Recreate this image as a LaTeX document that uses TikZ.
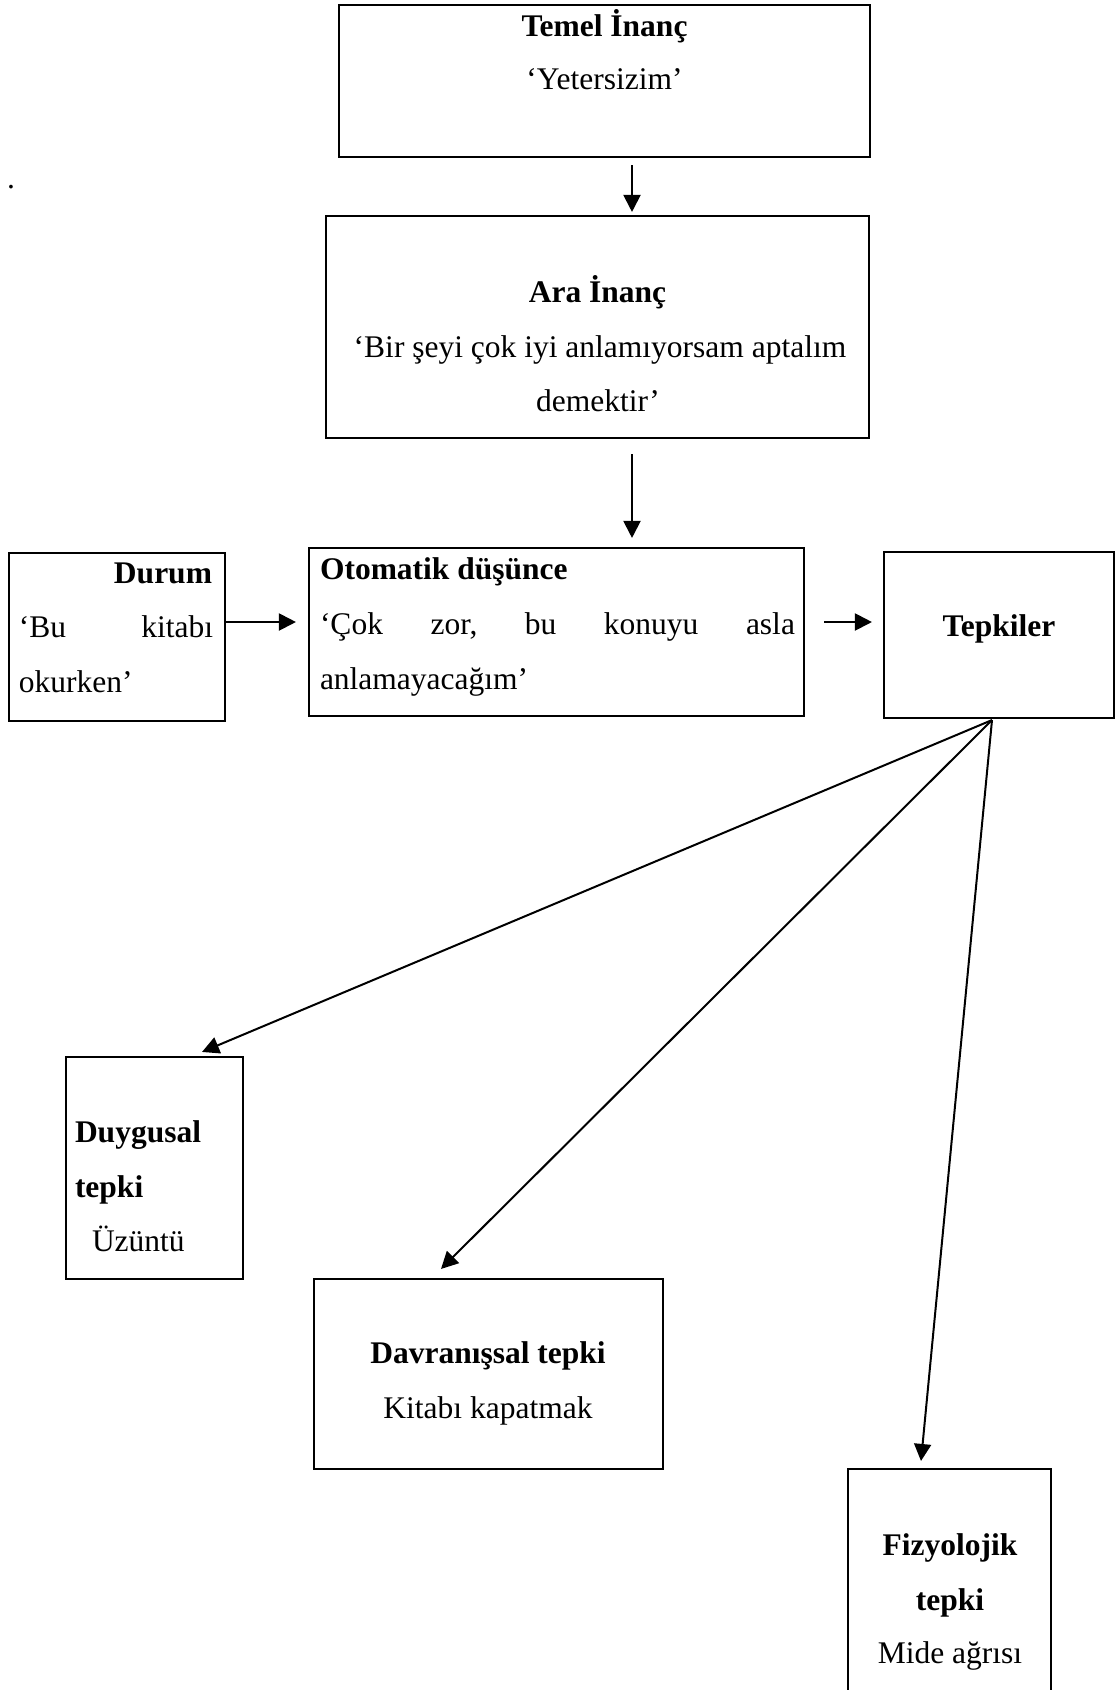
\documentclass[tikz,border=0pt]{standalone}
\usepackage{fontspec}
\setmainfont{Liberation Serif}
\usetikzlibrary{arrows.meta,calc}
\tikzset{
  box/.style={draw=black, line width=2.1pt, rectangle, inner sep=0pt, fill=none},
  txt/.style={inner sep=0pt, outer sep=0pt, font=\fontsize{31.5}{40}\selectfont},
  btxt/.style={txt, font=\fontsize{31.5}{40}\selectfont\bfseries},
  arr/.style={line width=2pt, -{Triangle[length=17pt,width=17pt]}},
}
\begin{document}
\begin{tikzpicture}[x=1pt,y=-1pt]
\useasboundingbox (0,0) rectangle (1117,1690);
\clip (0,0) rectangle (1117,1690);
% boxes
\node[box, minimum width=531pt, minimum height=152pt] (temel) at (604.5,81) {};
\node[box, minimum width=543pt, minimum height=222pt] (ara) at (597.5,327) {};
\node[box, minimum width=216pt, minimum height=168pt] (durum) at (117,637) {};
\node[box, minimum width=495pt, minimum height=168pt] (otom) at (556.5,632) {};
\node[box, minimum width=230pt, minimum height=166pt] (tepk) at (999,635) {};
\node[box, minimum width=177pt, minimum height=222pt] (duyg) at (154.5,1168) {};
\node[box, minimum width=349pt, minimum height=190pt] (dav) at (488.5,1374) {};
\node[box, minimum width=203pt, minimum height=291pt] (fiz) at (949.5,1614.5) {};
% stray dot
\node[txt, anchor=base west] (dot) at (7,188) {.};
% texts
\node[btxt, anchor=base] (t1) at (604.5,36) {Temel İnanç};
\node[txt, anchor=base] (t2) at (604.5,89) {‘Yetersizim’};
\node[btxt, anchor=base] (a1) at (597.5,302) {Ara İnanç};
\node[txt, anchor=base] (a2) at (600,357) {‘Bir şeyi çok iyi anlamıyorsam aptalım};
\node[txt, anchor=base] (a3) at (598,411) {demektir’};
\node[btxt, anchor=base east] (d1) at (212,583) {Durum};
\node[txt, anchor=base west] (d2) at (19,637) {\makebox[194pt][l]{‘Bu\hfill kitabı}};
\node[txt, anchor=base west] (d3) at (19,692) {okurken’};
\node[btxt, anchor=base west] (o1) at (320,579) {Otomatik düşünce};
\node[txt, anchor=base west] (o2) at (320,634) {\makebox[475pt][l]{‘Çok\hfill zor,\hfill bu\hfill konuyu\hfill asla}};
\node[txt, anchor=base west] (o3) at (320,689) {anlamayacağım’};
\node[btxt, anchor=base] (tp) at (999,636) {Tepkiler};
\node[btxt, anchor=base west] (u1) at (75,1142) {Duygusal};
\node[btxt, anchor=base west] (u2) at (75,1197) {tepki};
\node[txt, anchor=base west] (u3) at (92,1251) {Üzüntü};
\node[btxt, anchor=base] (v1) at (488,1363) {Davranışsal tepki};
\node[txt, anchor=base] (v2) at (488,1418) {Kitabı kapatmak};
\node[btxt, anchor=base] (f1) at (950,1555) {Fizyolojik};
\node[btxt, anchor=base] (f2) at (950,1610) {tepki};
\node[txt, anchor=base] (f3) at (950,1663) {Mide ağrısı};
% arrows
\draw[arr] ($(temel.south)+(27.5,7)$) -- ($(ara.north)+(34.5,-3)$);
\draw[arr] ($(ara.south)+(34.5,15)$) -- ($(otom.north)+(75.5,-9)$);
\draw[arr] ($(durum.east)+(0,-15)$) -- ($(otom.west)+(-12,-10)$);
\draw[arr] ($(otom.east)+(19,-10)$) -- ($(tepk.west)+(-11,-13)$);
\draw[arr] ($(tepk.south)+(-7,1)$) -- ($(duyg.north)+(47.5,-4)$);
\draw[arr] ($(tepk.south)+(-7,1)$) -- ($(dav.north)+(-47.5,-9)$);
\draw[arr] ($(tepk.south)+(-7,1)$) -- ($(fiz.north)+(-28.5,-7)$);
\end{tikzpicture}
\end{document}
